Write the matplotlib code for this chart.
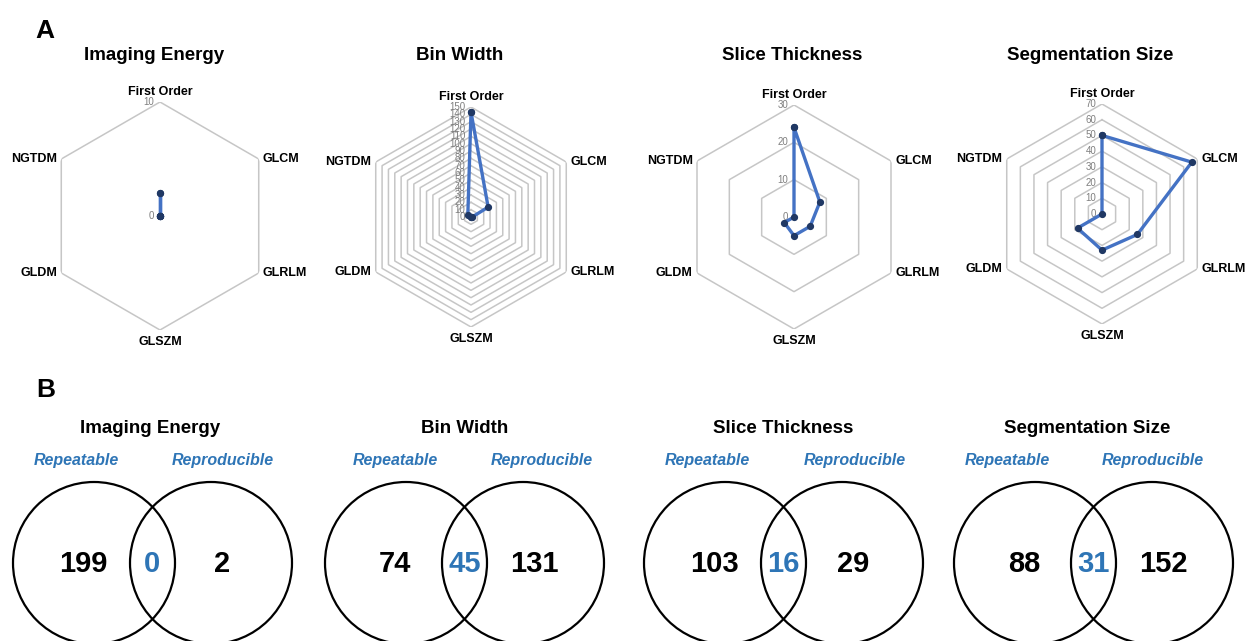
import numpy as np
import matplotlib
matplotlib.use('Agg')
import matplotlib.pyplot as plt
from matplotlib.patches import Circle
from matplotlib.transforms import offset_copy

plt.rcParams['font.family'] = ['Liberation Sans', 'DejaVu Sans']

# ---- data ----
categories = ['First Order', 'GLCM', 'GLRLM', 'GLSZM', 'GLDM', 'NGTDM']
panel_titles = ['Imaging Energy', 'Bin Width', 'Slice Thickness', 'Segmentation Size']

energy_counts = [2, 0, 0, 0, 0, 0]
bin_width_counts = [143, 27, 1, 0, 0, 5]
slice_counts = [24, 8, 5, 5, 3, 0]
segment_counts = [50, 66, 26, 23, 18, 0]
radar_counts = [energy_counts, bin_width_counts, slice_counts, segment_counts]
radar_max = [10, 150, 30, 70]
radar_step = [10, 10, 10, 10]

repeatable_only = [199, 74, 103, 88]
overlap = [0, 45, 16, 31]
reproducible_only = [2, 131, 29, 152]

# ---- layout (pixels, y from top) ----
W, H = 1249, 641
radar_cx = [160, 471, 794, 1102]
radar_cy = [216, 217, 217, 214]
radar_R = [114, 110, 112, 110]
titleA_x = [154, 460, 792, 1090]

venn_left = [94, 406, 725, 1035]
venn_gap = 117
venn_r = 81
venn_cy = 563
titleB_x = [150, 465, 783, 1087]
rep_x = [76, 395, 707, 1007]
repro_x = [223, 542, 855, 1153]

BLUE = '#4472C4'
NAVY = '#203864'
VBLUE = '#2E75B6'
GRID = '#C6C6C6'

fig = plt.figure(figsize=(W / 100, H / 100), dpi=100)

angles = np.linspace(0, 2 * np.pi, len(categories), endpoint=False)
closed = np.append(angles, angles[0])

label_spec = [
    ('center', 'baseline', 0, 5),
    ('left', 'center', 3, 0),
    ('left', 'center', 3, 0),
    ('center', 'top', 0, -4),
    ('right', 'center', -3, 0),
    ('right', 'center', -3, 0),
]

for k in range(4):
    cx, cy, R = radar_cx[k], radar_cy[k], radar_R[k]
    ax = fig.add_axes([(cx - R) / W, 1 - (cy + R) / H, 2 * R / W, 2 * R / H],
                      projection='polar')
    ax.set_theta_zero_location('N')
    ax.set_theta_direction(-1)
    ax.set_ylim(0, radar_max[k])
    ax.grid(False)
    ax.spines['polar'].set_visible(False)
    ax.set_xticks([])
    ax.set_yticks([])
    ax.patch.set_alpha(0)

    for r in range(radar_step[k], radar_max[k] + 1, radar_step[k]):
        ax.plot(closed, [r] * len(closed), color=GRID, lw=1.1, zorder=1)

    vals = radar_counts[k] + radar_counts[k][:1]
    ax.plot(closed, vals, color=BLUE, lw=2.4, zorder=3, marker='o', ms=4.2,
            mfc=NAVY, mec=NAVY, clip_on=False)

    # radial tick labels along the top axis
    lab_tr = offset_copy(ax.transData, fig=fig, x=-4, y=0, units='points')
    for r in range(0, radar_max[k] + 1, radar_step[k]):
        ax.text(0, r, str(r), transform=lab_tr, ha='right', va='center',
                fontsize=7, color='#7F7F7F', zorder=2)

    for i, name in enumerate(categories):
        ha, va, dx, dy = label_spec[i]
        tr = offset_copy(ax.transData, fig=fig, x=dx, y=dy, units='points')
        ax.text(angles[i], radar_max[k], name, transform=tr, ha=ha, va=va,
                fontsize=9, fontweight='bold', color='black')

# ---- overlay for titles and Venn diagrams ----
ov = fig.add_axes([0, 0, 1, 1])
ov.set_xlim(0, W)
ov.set_ylim(H, 0)
ov.axis('off')
ov.patch.set_alpha(0)

ov.text(35, 38, 'A', fontsize=19, fontweight='bold', ha='left', va='baseline')
ov.text(36, 397, 'B', fontsize=19, fontweight='bold', ha='left', va='baseline')

for k in range(4):
    ov.text(titleA_x[k], 60, panel_titles[k], fontsize=13.5, fontweight='bold',
            ha='center', va='baseline')
    ov.text(titleB_x[k], 433, panel_titles[k], fontsize=13.5, fontweight='bold',
            ha='center', va='baseline')
    ov.text(rep_x[k], 465, 'Repeatable', fontsize=11.5, fontweight='bold',
            style='italic', color=VBLUE, ha='center', va='baseline')
    ov.text(repro_x[k], 465, 'Reproducible', fontsize=11.5, fontweight='bold',
            style='italic', color=VBLUE, ha='center', va='baseline')

    lx = venn_left[k]
    rx = lx + venn_gap
    for x in (lx, rx):
        ov.add_patch(Circle((x, venn_cy), venn_r, fill=False, ec='black', lw=1.6))
    ov.text(lx - 11, 572, str(repeatable_only[k]), fontsize=21, fontweight='bold',
            ha='center', va='baseline')
    ov.text((lx + rx) / 2, 572, str(overlap[k]), fontsize=21, fontweight='bold',
            color=VBLUE, ha='center', va='baseline')
    ov.text(rx + 11, 572, str(reproducible_only[k]), fontsize=21, fontweight='bold',
            ha='center', va='baseline')

fig.savefig('out.png', dpi=100, facecolor='white')
